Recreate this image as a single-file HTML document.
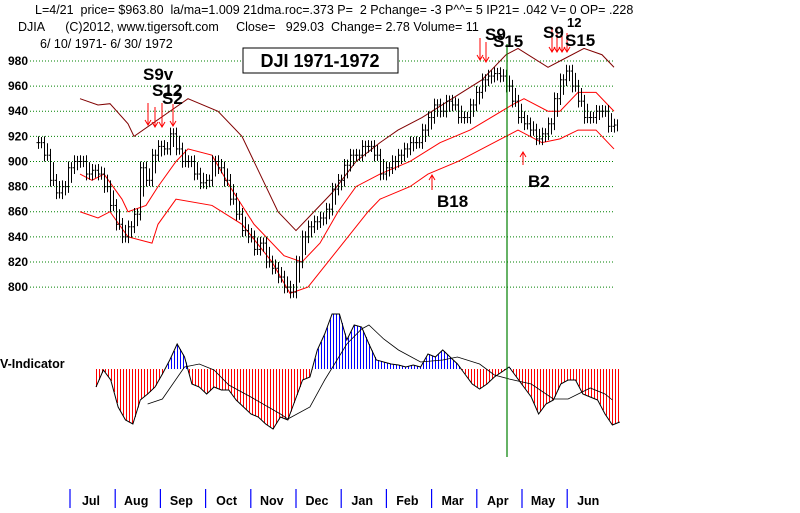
<!DOCTYPE html>
<html><head><meta charset="utf-8"><style>
body{margin:0;background:#fff;}
svg text{font-family:"Liberation Sans",Arial,sans-serif;}
</style></head><body>
<svg id="c" width="800" height="508" viewBox="0 0 800 508" xmlns="http://www.w3.org/2000/svg">
<text x="35" y="14" font-size="12.5" fill="#000" xml:space="preserve">L=4/21  price= $963.80  la/ma=1.009 21dma.roc=.373 P=  2 Pchange= -3 P^^= 5 IP21= .042 V= 0 OP= .228</text>
<text x="18" y="31" font-size="12.5" fill="#000" xml:space="preserve">DJIA      (C)2012, www.tigersoft.com     Close=   929.03  Change= 2.78 Volume= 11</text>
<text x="40" y="48" font-size="12.5" fill="#000">6/ 10/ 1971- 6/ 30/ 1972</text>
<g id="grid"></g><g id="bands"></g><g id="bars"></g><g id="ind" shape-rendering="crispEdges"></g><g id="indl"></g>
<rect x="243" y="48" width="155" height="25" fill="#fff" stroke="#000"/>
<text x="320" y="67" font-size="18" font-weight="bold" text-anchor="middle">DJI 1971-1972</text>
<line x1="507" y1="44" x2="507" y2="457" stroke="#008000" stroke-width="1.2"/>
<g fill="none" stroke="#f00" stroke-width="1">
<path d="M148 103v22M145 120l3 5l3-5M155 107v20M152 122l3 5l3-5M162 103v24M159 122l3 5l3-5M173 104v22M170 121l3 5l3-5"/>
<path d="M480 38v22M477 55l3 5l3-5M486 42v20M483 57l3 5l3-5M552 27v25M549 47l3 5l3-5M557 27v25M554 47l3 5l3-5M562 29v23M559 47l3 5l3-5M567 33v19M564 47l3 5l3-5"/>
<path d="M432 190v-15M429 180l3-5l3 5M523 165v-13M520 157l3-5l3 5"/>
</g>
<g font-size="17" font-weight="bold" fill="#000">
<text x="143" y="80">S9v</text><text x="152" y="96">S12</text><text x="162" y="104">S2</text>
<text x="485" y="40">S9</text><text x="493" y="47">S15</text>
<text x="543" y="38">S9</text><text x="567" y="27" font-size="13">12</text><text x="565" y="46">S15</text>
<text x="437" y="207">B18</text><text x="528" y="187">B2</text>
</g>
<text x="0" y="368" font-size="12.5" font-weight="bold">V-Indicator</text>
<g id="months"></g>
</svg>
<script>
const priceCloses=[915,905,885,875,880,895,900,900,890,893,890,880,865,850,840,848,858,895,885,905,912,910,922,910,900,900,890,883,885,900,895,885,870,858,845,840,830,835,820,815,808,800,796,820,840,848,852,855,862,878,885,897,905,905,912,912,905,890,895,900,905,910,915,915,925,935,945,940,948,945,935,935,945,955,965,968,970,968,960,948,935,930,925,918,922,930,950,965,972,960,948,935,935,940,940,928,929];
const yTicks=[980,960,940,920,900,880,860,840,820,800];
const upperBand=[[7,950],[10,945],[12,946],[15,930],[16,920],[19,930],[22,940],[25,950],[30,940],[34,920],[37,890],[40,860],[43,845],[45,855],[49,875],[53,900],[57,915],[60,925],[64,935],[69,950],[74,965],[78,985],[80,990],[85,975],[87,980],[91,990],[94,985],[96,975]];
const midBand=[[7,890],[9,885],[11,890],[14,870],[15,860],[18,865],[20,880],[23,900],[25,910],[29,905],[32,880],[36,850],[41,825],[44,820],[47,835],[50,860],[53,880],[57,890],[62,900],[67,915],[72,925],[79,945],[81,950],[85,940],[87,940],[90,955],[93,955],[96,940]];
const lowerBand=[[7,860],[10,855],[12,860],[15,840],[19,835],[20,850],[23,870],[29,865],[34,850],[39,820],[42,795],[45,800],[50,830],[55,860],[57,870],[62,880],[65,890],[70,900],[78,920],[80,925],[84,915],[87,918],[90,925],[93,925],[96,910]];
const vIndicator=[-18,-1,-11,-38,-51,-55,-31,-25,-18,-5,9,25,12,-15,-18,-25,-18,-21,-21,-31,-38,-45,-48,-55,-60,-48,-51,-31,-11,-8,19,35,55,55,29,44,42,25,9,7,5,4,2,4,2,15,12,19,12,5,-5,-15,-20,-15,-8,-3,2,-8,-18,-28,-45,-35,-31,-15,-11,-11,-25,-28,-31,-45,-56,-53];
const vSignal=[[7,-35],[9,-30],[12,2],[14,5],[16,-1],[18,-16],[21,-28],[25,-45],[26,-50],[29,-38],[31,-11],[34,25],[36,40],[37,44],[39,30],[41,19],[44,7],[47,9],[49,12],[52,5],[54,-6],[56,-10],[59,-15],[62,-30],[64,-30],[67,-19],[69,-25],[70,-31]];
const months=["Jul","Aug","Sep","Oct","Nov","Dec","Jan","Feb","Mar","Apr","May","Jun"];
const monthTickIdx=[0,1,2,3,4,5,6,7,8,9,10,11];
const NS="http://www.w3.org/2000/svg";
const px=i=>38+i*6, py=v=>61+(980-v)*1.256;
const vx=i=>96+i*7.377, vy=v=>369-v;
const mx=i=>70+i*45.2;
function mk(t,a,p){const e=document.createElementNS(NS,t);for(const k in a)e.setAttribute(k,a[k]);p.appendChild(e);return e;}
const G=document.getElementById('grid');
yTicks.forEach(v=>{
 const l=mk('line',{x1:30,x2:615,y1:py(v),y2:py(v),stroke:'#008000','stroke-dasharray':'1,2'},G);
 
 
 const t=mk('text',{x:8,y:py(v)+4,'font-size':12,'font-weight':'bold'},G);t.textContent=v;
 
 
});
const B=document.getElementById('bands');
[[upperBand,'#800000','upper-band'],[midBand,'#f00','middle-band'],[lowerBand,'#f00','lower-band']].forEach(([d,c,n])=>{
 const p=mk('polyline',{points:d.map(q=>px(q[0])+','+py(q[1])).join(' '),fill:'none',stroke:c},B);
 
 
});
const R=document.getElementById('bars');
priceCloses.forEach((c,i)=>{
 const prev=i?priceCloses[i-1]:c;
 const hi=Math.max(c,prev)+5, lo=Math.min(c,prev)-5, x=px(i)+0.5;
 const g=mk('g',{stroke:'#000','stroke-width':1},R);
 
 
 mk('line',{x1:x,x2:x,y1:py(hi),y2:py(lo)},g);
 mk('line',{x1:x-2,x2:x,y1:py(prev),y2:py(prev)},g);
 mk('line',{x1:x,x2:x+2,y1:py(c),y2:py(c)},g);
 mk('line',{x1:x+3,x2:x+3,y1:py((hi+c)/2+2),y2:py((lo+c)/2-2)},g);
});
const I=document.getElementById('ind');
for(let xp=Math.ceil(vx(0));xp<=vx(vIndicator.length-1);xp+=3){
 const f=(xp-vx(0))/7.377, i=Math.min(Math.floor(f),vIndicator.length-2), t=f-i;
 const v=vIndicator[i]+(vIndicator[i+1]-vIndicator[i])*t;
 const l=mk('line',{x1:xp+0.5,x2:xp+0.5,y1:vy(0),y2:vy(v),stroke:v>=0?'#00f':'#f00','stroke-width':1},I);
 
 
}
const IL=document.getElementById('indl');
const vl=mk('polyline',{points:vIndicator.map((v,i)=>vx(i)+','+vy(v)).join(' '),fill:'none',stroke:'#000'},IL);


const sl=mk('polyline',{points:vSignal.map(q=>vx(q[0])+','+vy(q[1])).join(' '),fill:'none',stroke:'#000','stroke-width':0.8},IL);


const M=document.getElementById('months');
monthTickIdx.forEach(i=>{
 const l=mk('line',{x1:mx(i),x2:mx(i),y1:489,y2:508,stroke:'#00f','stroke-width':1.2},M);
 
 
});
months.forEach((m,i)=>{
 const t=mk('text',{x:mx(i)+21,y:505,'font-size':12.5,'font-weight':'bold','text-anchor':'middle'},M);t.textContent=m;
 
 
});
</script>
</body></html>
